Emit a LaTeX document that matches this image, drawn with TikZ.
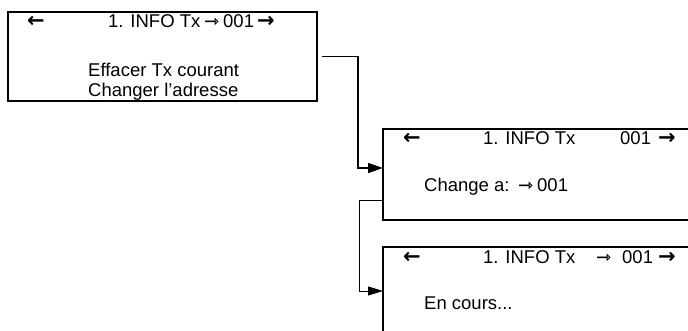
\documentclass[tikz,border=0pt]{standalone}
\usepackage{fontspec}
\usepackage{tikz}
\usetikzlibrary{arrows.meta, positioning, calc}
\setmainfont{Liberation Sans}
\newfontfamily\glyphfont{DejaVu Sans}
\definecolor{mydark}{RGB}{0,0,0}
\tikzset{
  screen/.style={rectangle, draw=mydark, line width=1.6pt, anchor=north west,
    inner sep=0pt, outer sep=0pt},
  lcd/.style={anchor=base west, inner sep=0pt, font=\fontsize{18.5}{20}\selectfont},
  sym/.style={anchor=base west, inner sep=0pt, font=\fontsize{21}{22}\glyphfont\bfseries},
  osym/.style={anchor=base west, inner sep=0pt, font=\fontsize{18}{20}\glyphfont\bfseries},
  arrow/.style={-{Triangle[length=15pt, width=10pt]}, line width=1.6pt, color=mydark},
  thinarrow/.style={-{Triangle[length=15pt, width=9pt]}, line width=0.8pt, color=mydark}
}

\begin{document}
\begin{tikzpicture}[x=1pt, y=1pt]
  \useasboundingbox (0,0) rectangle (688,331);
  \clip (0,0) rectangle (688,331);

  % Screens
  \node[screen, minimum width=309pt, minimum height=89pt] (menu) at (8,319) {};
  \node[screen, minimum width=330pt, minimum height=91pt] (change) at (383,202) {};
  \node[screen, minimum width=330pt, minimum height=93pt] (busy) at (383,84) {};

  % Menu screen
  \node[sym] (mleft) at (27,303) {←};
  \node[lcd] (mtitle) at (108,303) {1. INFO Tx};
  \node[osym] (mopen) at (204,303) {⇾};
  \node[lcd] (mnum) at (223,303) {001};
  \node[sym] (mright) at (257,303) {→};
  \node[lcd] (mline1) at (88,254) {Effacer Tx courant};
  \node[lcd] (mline2) at (88,234) {Changer l’adresse};

  % Change screen
  \node[sym] (cleft) at (403,186) {←};
  \node[lcd] (ctitle) at (483,186) {1. INFO Tx};
  \node[lcd] (cnum) at (620,186) {001};
  \node[sym] (cright) at (658,186) {→};
  \node[lcd] (cline) at (424,139) {Change a:};
  \node[osym] (copen) at (518,139) {⇾};
  \node[lcd] (cval) at (537,139) {001};

  % Busy screen
  \node[sym] (bleft) at (403,67) {←};
  \node[lcd] (btitle) at (483,67) {1. INFO Tx};
  \node[osym] (bopen) at (596,67) {⇾};
  \node[lcd] (bnum) at (622,67) {001};
  \node[sym] (bright) at (658,67) {→};
  \node[lcd] (bline) at (424,21) {En cours...};

  % Paths
  \draw[arrow, shorten <=5pt] (menu.east) -- ++(41,0) |- ([yshift=6.5pt]change.west);
  \draw[thinarrow] ([yshift=-25.5pt]change.west) -- ++(-24,0) |- ([yshift=2.5pt]busy.west);
\end{tikzpicture}
\end{document}
